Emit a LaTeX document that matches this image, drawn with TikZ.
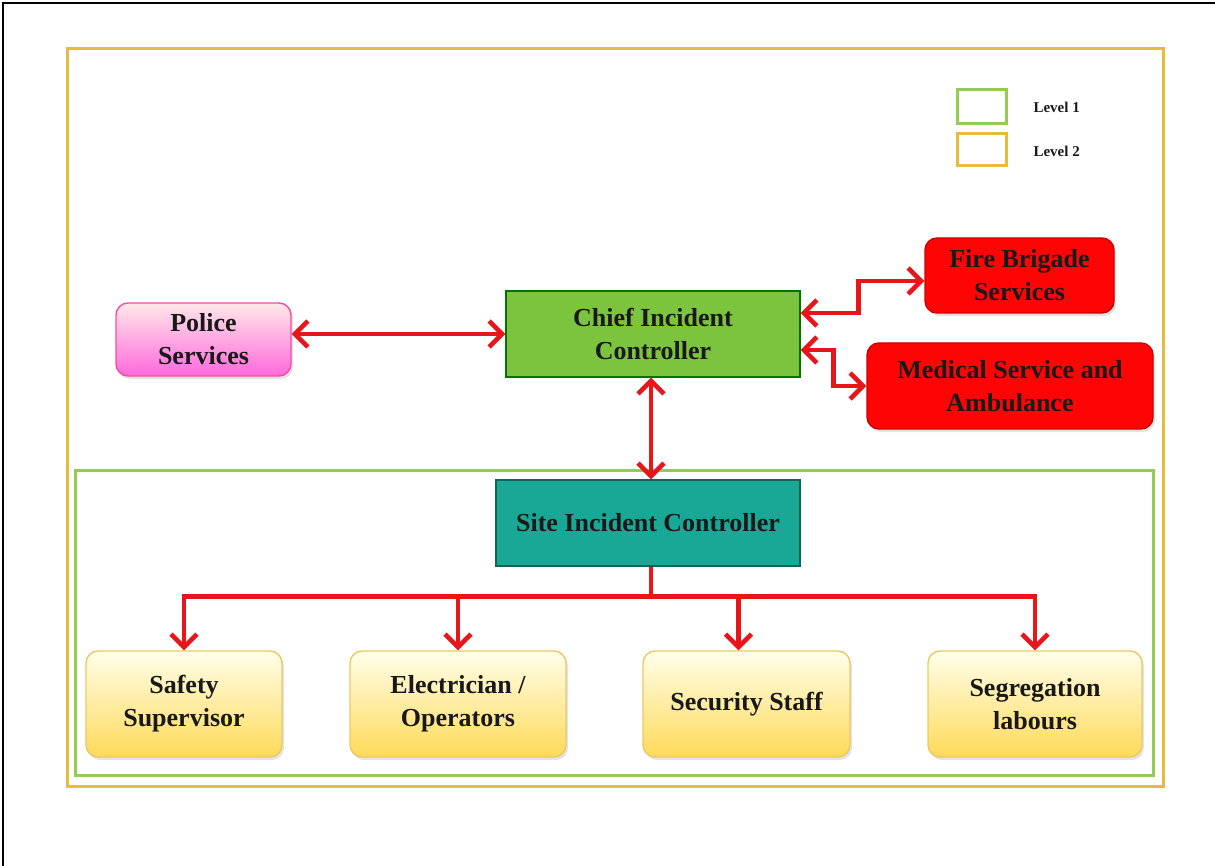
\documentclass[tikz,border=0pt]{standalone}
\usepackage{fontspec}
\setmainfont{Liberation Serif}
\usetikzlibrary{arrows.meta,shadows}

\definecolor{linkred}{RGB}{232,22,26}
\definecolor{lvlgreen}{RGB}{146,204,84}
\definecolor{lvlyellow}{RGB}{228,188,62}
\definecolor{chiefgreen}{RGB}{124,196,62}
\definecolor{siteteal}{RGB}{26,168,150}
\definecolor{emerred}{RGB}{255,4,4}

\begin{document}
\begin{tikzpicture}[x=1pt, y=-1pt,
  font=\fontsize{26}{33}\selectfont\bfseries, text=black!90,
  box/.style={draw, line width=1.4pt, align=center, inner sep=2pt},
  shade/.style={drop shadow={opacity=0.22, shadow xshift=2pt, shadow yshift=-3pt}},
  link/.style={draw=linkred, line width=4.6pt,
    {Straight Barb[length=13pt,width=26pt]}-{Straight Barb[length=13pt,width=26pt]}},
  down/.style={draw=linkred, line width=4.6pt, -{Straight Barb[length=13pt,width=26pt]}},
  staff/.style={box, shade, rounded corners=12pt, draw=lvlyellow!80,
    top color=yellow!8, bottom color=yellow!55!orange!65, minimum height=106pt},
  lvl/.style={line width=3pt}]
  \useasboundingbox (0,0) rectangle (1215,866);
  \draw[line width=2.6pt] (1215,3) -- (3,3) -- (3,866);
  % levels
  \draw[lvl, draw=lvlyellow] (67,49) rectangle (1163,786);
  \draw[lvl, draw=lvlgreen] (75,470) rectangle (1153,775);
  % legend
  \node[lvl, draw=lvlgreen, minimum width=49pt, minimum height=34pt] (leg1) at (981.5,107) {};
  \node[lvl, draw=lvlyellow, minimum width=49pt, minimum height=32pt] (leg2) at (981.5,150) {};
  \node[anchor=west, font=\fontsize{15}{18}\selectfont\bfseries] (leg1t) at (1030,107) {Level 1};
  \node[anchor=west, font=\fontsize{15}{18}\selectfont\bfseries] (leg2t) at (1030,151) {Level 2};
  % top level
  \node[box, shade, rounded corners=12pt, draw=magenta!60!pink, top color=pink!35,
    bottom color=magenta!45!pink, minimum width=175pt, minimum height=73pt] (police) at (203.5,339.5) {Police\\Services};
  \node[box, draw=green!45!black, fill=chiefgreen, minimum width=294pt, minimum height=86pt] (chief) at (653,334) {Chief Incident\\Controller};
  \node[box, shade, rounded corners=12pt, draw=red!80!black, fill=emerred, minimum width=189pt, minimum height=75pt] (fire) at (1019.5,275.5) {Fire Brigade\\Services};
  \node[box, shade, rounded corners=12pt, draw=red!80!black, fill=emerred, minimum width=286pt, minimum height=86pt] (medical) at (1010,386) {Medical Service and\\Ambulance};
  \node[box, draw=siteteal!60!black, fill=siteteal, minimum width=304pt, minimum height=86pt] (site) at (648,523) {Site Incident Controller};
  % site staff
  \foreach \n/\x/\w/\t in {safety/184/196/{Safety\\Supervisor}, elec/458/216/{Electrician /\\Operators},
      secur/746.5/207/{Security Staff}, segr/1035/214/{Segregation\\labours}}{
    \node[staff, minimum width=\w pt] (\n) at (\x,704) {\t};}
  % links
  \draw[link] (police.east |- chief.west) -- (chief.west);
  \draw[link] ([xshift=-2pt]chief.south) -- ([xshift=-2pt]chief.south |- site.north);
  \draw[link] ([yshift=21pt]chief.east) -- ++(58,0) |- ([yshift=-5.5pt]fire.west);
  \draw[link] ([yshift=-16pt]chief.east) -- ++(33,0) |- (medical.west);
  \foreach \n/\dx in {safety/0, elec/0, secur/-8, segr/0}
    \draw[down] ([xshift=3pt]site.south) -- ++(0,30) -| ([xshift=\dx pt]\n.north);
\end{tikzpicture}
\end{document}
